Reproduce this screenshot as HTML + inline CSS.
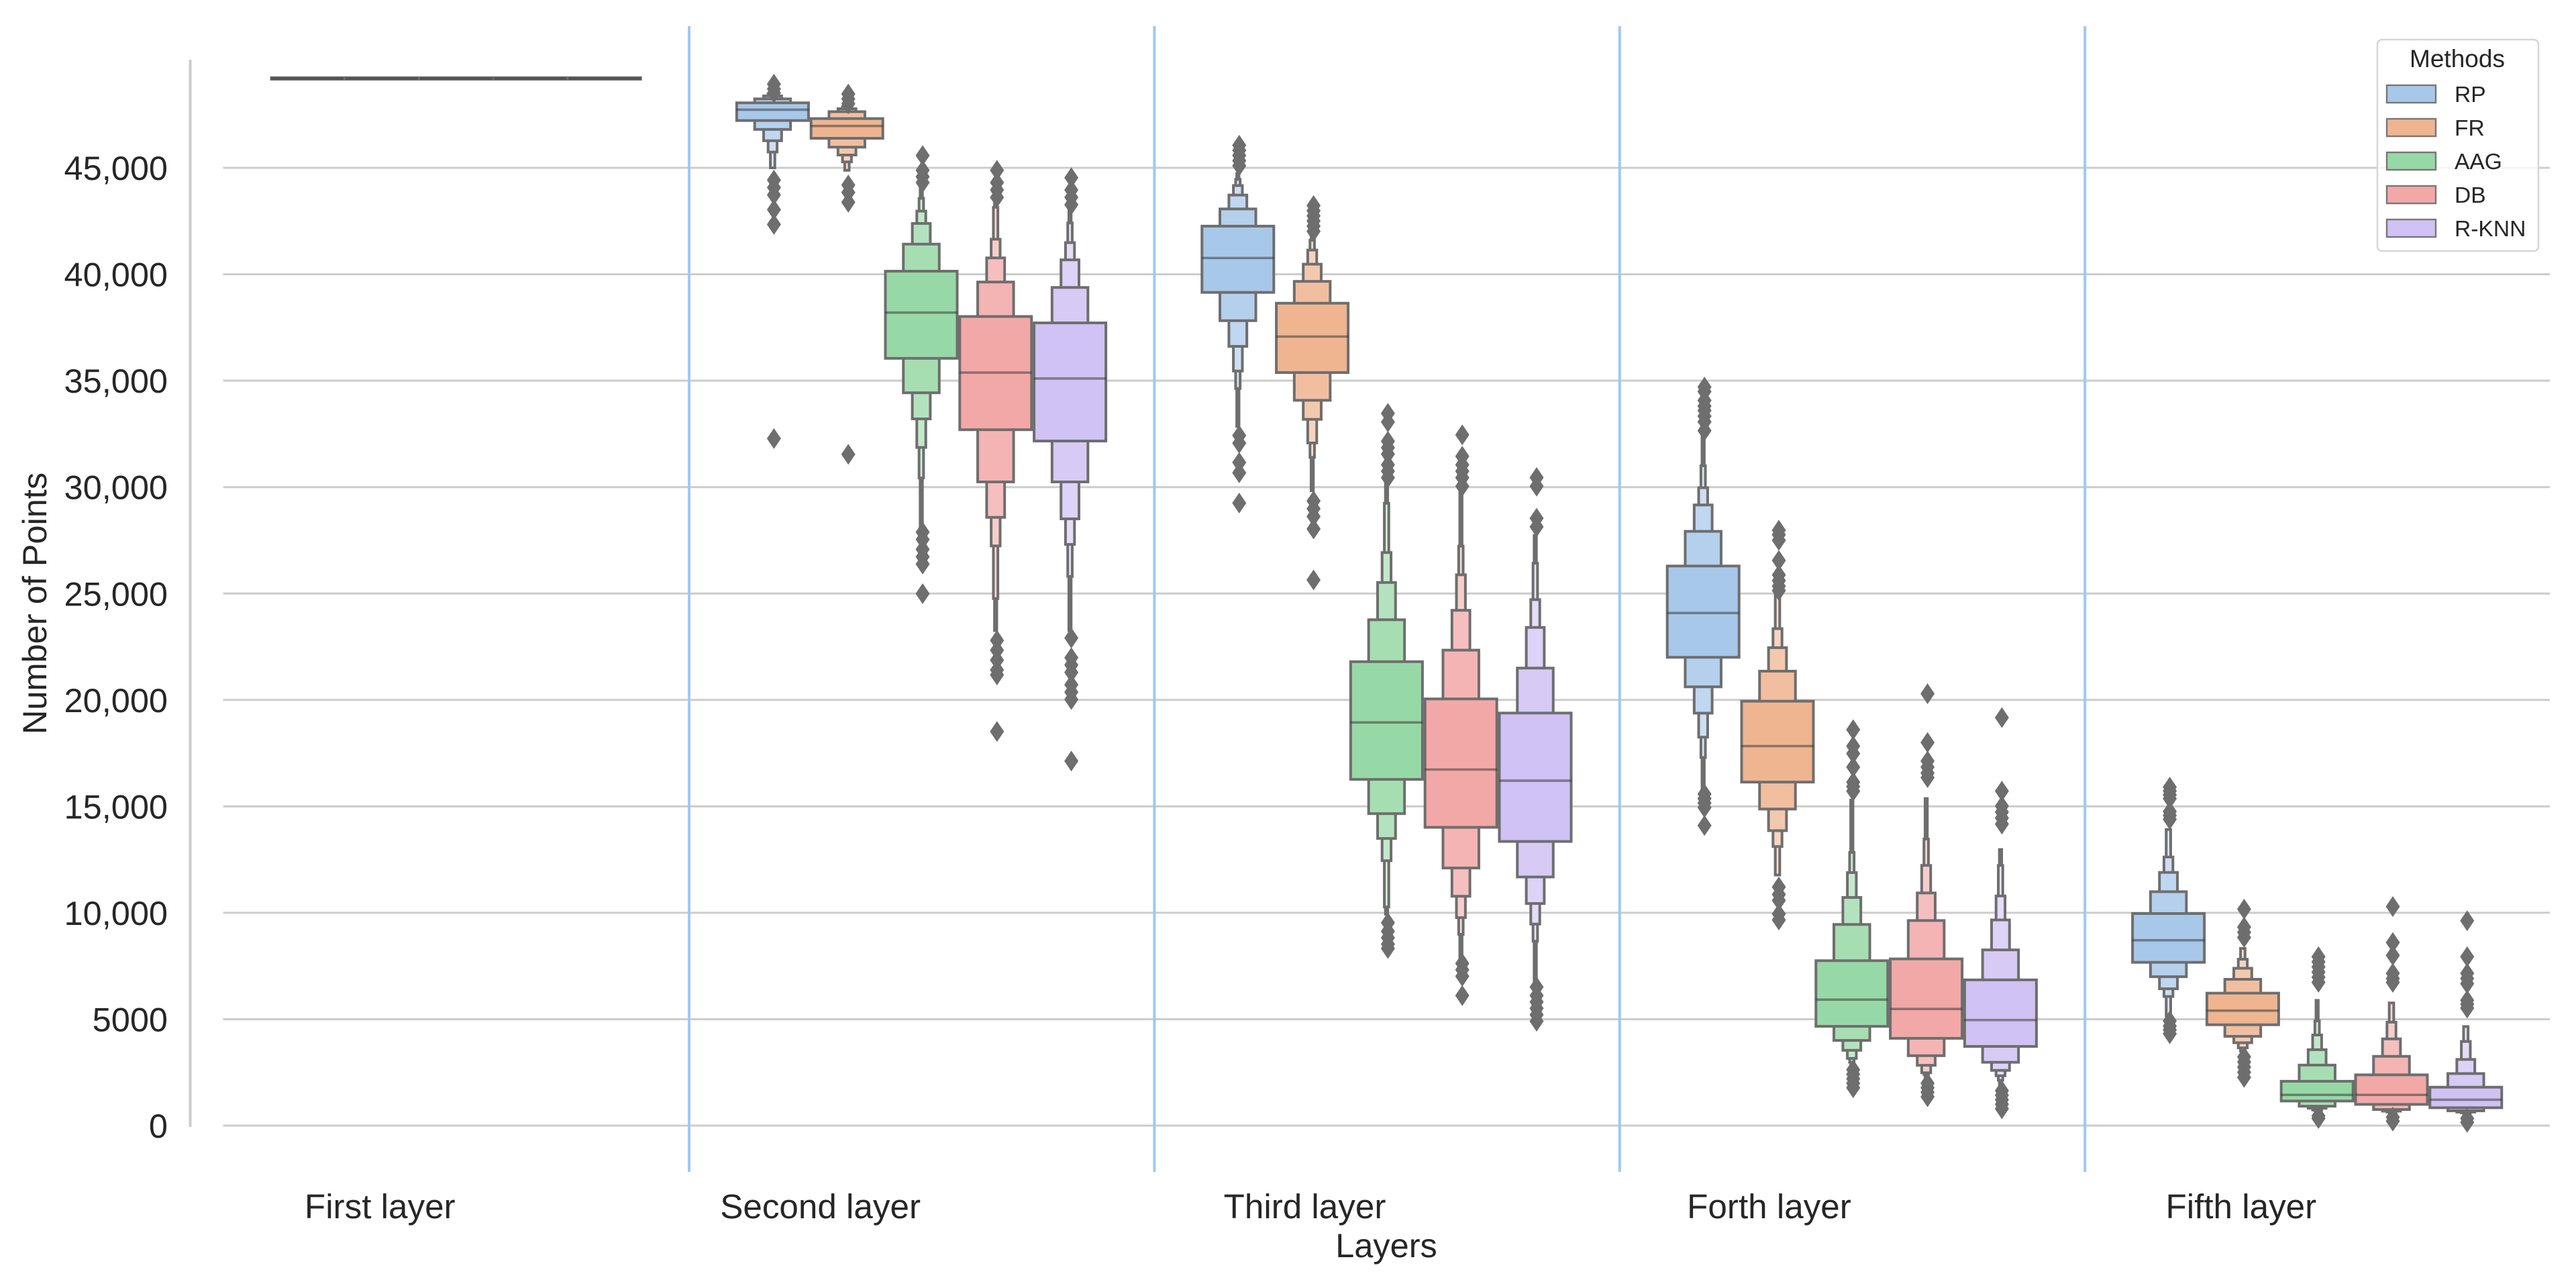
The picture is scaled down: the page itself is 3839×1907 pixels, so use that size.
<!DOCTYPE html>
<html lang="en">
<head>
<meta charset="utf-8">
<title>Number of Points per Layer by Method</title>
<style>
  html, body { margin: 0; padding: 0; background: #ffffff; }
  svg { display: block; }
  text { font-family: "Liberation Sans", Arial, sans-serif; fill: #262626; }
</style>
</head>
<body>
<svg id="chart" xmlns="http://www.w3.org/2000/svg" width="3839" height="1907" viewBox="0 0 3839 1907">
  <rect x="0" y="0" width="3839" height="1907" fill="#ffffff"/>
  <g id="grid"></g>
  <line x1="283.5" y1="89" x2="283.5" y2="1679" stroke="#cccccc" stroke-width="4"/>
  <g id="dividers"></g>
  <g id="yticks"></g>
  <g id="xticks"></g>
  <text transform="translate(69,899) rotate(-90)" text-anchor="middle" font-size="50.5">Number of Points</text>
  <text x="2066" y="1873" text-anchor="middle" font-size="50.5">Layers</text>
  <g id="marks"></g>
  <g id="legend">
    <rect x="3543" y="59" width="240" height="315" rx="7" ry="7" fill="#ffffff" fill-opacity="0.8" stroke="#d6d6d6" stroke-width="2.5"/>
    <text x="3662" y="100" text-anchor="middle" font-size="37">Methods</text>
  </g>
</svg>
<script>
const categories = ["First layer", "Second layer", "Third layer", "Forth layer", "Fifth layer"];
const methods = ["RP", "FR", "AAG", "DB", "R-KNN"];
const tickValues = [0, 5000, 10000, 15000, 20000, 25000, 30000, 35000, 40000, 45000];
const tickLabels = ["0", "5000", "10,000", "15,000", "20,000", "25,000", "30,000", "35,000", "40,000", "45,000"];

const medians = [
  [49200, 49200, 49200, 49200, 49200],
  [47730, 46967, 38201, 35379, 35101],
  [40764, 37071, 18942, 16730, 16207],
  [24085, 17830, 5918, 5482, 4961],
  [8710, 5403, 1444, 1444, 1215]
];

const upperLevels = [
  [[49235], [49235], [49235], [49235], [49235]],
  [[48054, 48239, 48378, 48470, 48540],
   [47314, 47638, 47777, 47869, 47950],
   [40144, 41416, 42387, 42966, 43567, 44076],
   [38016, 39635, 40768, 41647, 43150, 43500],
   [37715, 39380, 40676, 41485, 42410, 43000]],
  [[42261, 43069, 43721, 44168, 44457, 44735],
   [38640, 39666, 40474, 41138, 41597, 41899],
   [21797, 23768, 25518, 26925, 29238, 30143],
   [20048, 22340, 24211, 25880, 27227, 29841],
   [19384, 21496, 23406, 24713, 26423, 27730]],
  [[26292, 27921, 29161, 29970, 31000, 32388],
   [19942, 21352, 22456, 23349, 24926],
   [7749, 9452, 10720, 11888, 12832, 15296],
   [7833, 9636, 10931, 12226, 13465, 15366],
   [6848, 8256, 9664, 10790, 12226, 12972]],
  [[9965, 10991, 11896, 12620, 13911],
   [6224, 6875, 7394, 7817, 8324],
   [2084, 2844, 3568, 4256, 4920, 5885],
   [2386, 3255, 4075, 4860, 5765],
   [1806, 2446, 3110, 3954, 4655]]
];

const lowerLevels = [
  [[49165], [49165], [49165], [49165], [49165]],
  [[47222, 46805, 46273, 45741, 45000],
   [46389, 45972, 45602, 45279, 44885],
   [36050, 34431, 33205, 31863, 30429, 28116],
   [32696, 30244, 28579, 27237, 24762, 23259],
   [32164, 30244, 28509, 27306, 25803, 23259]],
  [[39147, 37819, 36612, 35454, 34633, 32847],
   [35381, 34078, 33184, 32074, 31399, 29830],
   [16267, 14658, 13492, 12446, 10274, 9933],
   [14015, 12104, 10777, 9772, 8987, 7821],
   [13351, 11682, 10435, 9470, 8665, 6816]],
  [[22004, 20616, 19379, 18252, 17295, 15859],
   [16140, 14873, 13859, 13113, 11776],
   [4665, 4003, 3539, 3159, 2976, 2764],
   [4102, 3286, 2835, 2483, 2400, 2271],
   [3722, 2976, 2595, 2342, 2131, 1850]],
  [[7672, 6996, 6429, 6067, 5161],
   [4739, 4196, 3894, 3653, 3500],
   [1155, 913, 817, 732, 700, 650],
   [997, 756, 680, 640, 600],
   [841, 696, 636, 600, 560]]
];

const outliers = [
  [[], [], [], [], []],
  [[48933, 48702, 48517, 44423, 44076, 43729, 43035, 42341, 32280],
   [48470, 48239, 48008, 44192, 43845, 43382, 31540],
   [45579, 44885, 44585, 44307, 27885, 27538, 27076, 26728, 26382, 24994],
   [44885, 44307, 43960, 43613, 22796, 22334, 21871, 21408, 21177, 18517],
   [44538, 43960, 43613, 43266, 22912, 21986, 21640, 21293, 20715, 20368, 20021, 17129]],
  [[46062, 45821, 45580, 45338, 45097, 32424, 32063, 31157, 30674, 29250],
   [43226, 42985, 42743, 42502, 42261, 42019, 29347, 28985, 28623, 28035, 25640],
   [33464, 33059, 32154, 31852, 31551, 31048, 30746, 30445, 9530, 9128, 8826, 8525, 8323],
   [32456, 31450, 31048, 30746, 30445, 30043, 7620, 7319, 7017, 6112],
   [30446, 30042, 28534, 28132, 6514, 6112, 5810, 5509, 5207, 4905]],
  [[34700, 34490, 34070, 33806, 33596, 33334, 33071, 32650, 15577, 15366, 15155, 14944, 14099],
   [27974, 27763, 27500, 26555, 25871, 25609, 25346, 25136, 11212, 10860, 10579, 9945, 9663],
   [18604, 17830, 17478, 16844, 16140, 15929, 15718, 2624, 2412, 2201, 1990, 1779],
   [20294, 17999, 17126, 16844, 16563, 16352, 1990, 1779, 1568, 1356],
   [19168, 15718, 15014, 14732, 14451, 14169, 1638, 1427, 1216, 1005, 793]],
  [[15903, 15722, 15541, 15360, 14756, 14575, 14394, 4920, 4680, 4498, 4317],
   [10170, 9325, 9083, 8843, 3230, 2989, 2748, 2506, 2265],
   [7937, 7696, 7455, 7213, 6972, 6731, 455, 334],
   [10291, 8601, 7998, 7153, 6911, 6731, 394, 213],
   [9627, 7937, 7153, 6911, 6670, 5885, 5705, 5524, 334, 153]]
];

const baseFills = ["#a8c8ea", "#efb590", "#97d9a6", "#f2a8a7", "#d0c2f4"];
const levelLightening = [0, 0.14, 0.27, 0.42, 0.55, 0.65, 0.72];

const NS = "http://www.w3.org/2000/svg";
const INK = "#6e6e6e";

function yScale(v) { return 1677 - v * 0.03171; }
function xCenter(layer) { return 679.6 + 693.4 * layer; }
function hueCenter(layer, method) { return xCenter(layer) + (method - 2) * 110.8; }
function dividerX(k) { return 1027 + 693.4 * k; }
function levelWidth(level) { return 107 * Math.pow(0.5, level); }

function shape(tag, attrs, parent) {
  const el = document.createElementNS(NS, tag);
  for (const k in attrs) el.setAttribute(k, attrs[k]);
  parent.appendChild(el);
  return el;
}

function lighten(hex, t) {
  const n = parseInt(hex.slice(1), 16);
  const c = [(n >> 16) & 255, (n >> 8) & 255, n & 255].map(function (x) {
    return Math.round(x + (255 - x) * t);
  });
  return "rgb(" + c.join(",") + ")";
}

const gridG = document.getElementById("grid");
const yticksG = document.getElementById("yticks");
tickValues.forEach(function (v, i) {
  const line = shape("line", { x1: 332.5, x2: 3800, y1: yScale(v), y2: yScale(v), stroke: "#cccccc", "stroke-width": 3 }, gridG);
  
  
  const label = shape("text", { x: 250, y: yScale(v) + 18, "text-anchor": "end", "font-size": 50.5 }, yticksG);
  
  
  label.textContent = tickLabels[i];
});

const dividersG = document.getElementById("dividers");
for (let k = 0; k < categories.length - 1; k++) {
  const d = shape("line", { x1: dividerX(k), x2: dividerX(k), y1: 39, y2: 1746, stroke: "#9fc8f5", "stroke-width": 4 }, dividersG);
  
  
}

const xticksG = document.getElementById("xticks");
categories.forEach(function (name, i) {
  const t = shape("text", { x: xCenter(i) - 1, y: 1815, "text-anchor": "end", "font-size": 51.2 }, xticksG);
  
  
  t.textContent = name;
});

const marksG = document.getElementById("marks");
categories.forEach(function (cat, layer) {
  methods.forEach(function (method, m) {
    const cx = hueCenter(layer, m);
    const group = shape("g", {}, marksG);
    
    
    const ups = upperLevels[layer][m];
    const lows = lowerLevels[layer][m];
    for (let lv = ups.length - 1; lv >= 0; lv--) {
      const w = levelWidth(lv);
      const top = yScale(ups[lv]);
      const bottom = yScale(lows[lv]);
      const box = shape("rect", {
        x: cx - w / 2, y: top, width: w, height: bottom - top,
        fill: lighten(baseFills[m], levelLightening[lv]),
        stroke: INK, "stroke-width": 4, "stroke-linejoin": "miter"
      }, group);
      
      
    }
    const my = yScale(medians[layer][m]);
    const med = shape("line", {
      x1: cx - 54, x2: cx + 54, y1: my, y2: my,
      stroke: "#3c3c3c", "stroke-opacity": 0.55, "stroke-width": 3.6
    }, group);
    
    
    outliers[layer][m].forEach(function (v) {
      const ox = cx + 2;
      const oy = yScale(v);
      const pts = [ox, oy - 15.5, ox + 10.5, oy, ox, oy + 15.5, ox - 10.5, oy].join(" ");
      const dm = shape("polygon", { points: pts, fill: INK }, group);
      
      
    });
  });
});

const legendG = document.getElementById("legend");
methods.forEach(function (name, i) {
  const rowY = 127 + i * 50;
  const patch = shape("rect", {
    x: 3557, y: rowY, width: 73, height: 26,
    fill: baseFills[i], stroke: "#777777", "stroke-width": 2.4
  }, legendG);
  
  
  const label = shape("text", { x: 3658, y: rowY + 25, "font-size": 33.6 }, legendG);
  
  
  label.textContent = name;
});
</script>
</body>
</html>
